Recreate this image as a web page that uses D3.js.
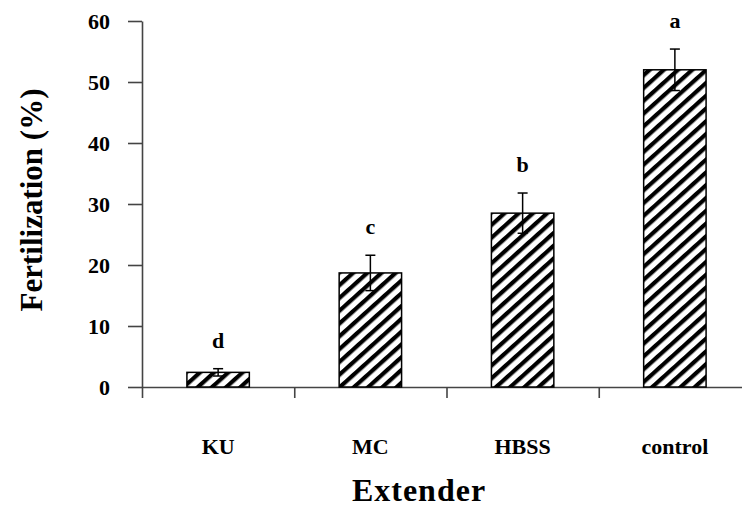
<!DOCTYPE html>
<html>
<head>
<meta charset="utf-8">
<script src="https://cdn.jsdelivr.net/npm/d3@7"></script>
<style>
  html, body { margin: 0; padding: 0; background: #fff; }
  text { font-family: "Liberation Serif", "Times New Roman", serif; font-weight: bold; fill: #000; }
</style>
</head>
<body>
<div id="chart"></div>
<script>
// Data

let categories = ['KU', 'MC', 'HBSS', 'control'];
let fertilization = [2.4, 18.7, 28.5, 52.0];
let std_error = [0.6, 2.9, 3.3, 3.4];
let letters = ['d', 'c', 'b', 'a'];
let y_ticks = [0, 10, 20, 30, 40, 50, 60];

// Canvas

let width = 742;
let height = 508;
let plot_left = 142, plot_right = 751, plot_top = 21, plot_bottom = 387;

let svg = d3.select('#chart')
    .append('svg')
    .attr('width', width)
    .attr('height', height);

// Hatch pattern

svg.append('defs')
    .append('pattern')
    .attr('id', 'hatch')
    .attr('patternUnits', 'userSpaceOnUse')
    .attr('width', 9.5)
    .attr('height', 9.5)
    .attr('patternTransform', 'rotate(48)')
    .call(p => {
        p.append('rect').attr('width', 9.5).attr('height', 9.5).attr('fill', '#fff');
        p.append('rect').attr('width', 4.2).attr('height', 9.5).attr('fill', '#000');
    });

// Scales

let x = d3.scaleBand()
    .domain(categories)
    .range([plot_left, plot_right])
    .padding(0);

let x_ticks = d3.scaleLinear()
    .domain([0, categories.length])
    .range([plot_left, plot_right]);

let y = d3.scaleLinear()
    .domain([0, 60])
    .range([plot_bottom, plot_top]);

let bar_width = x.bandwidth() * 0.41;

// Axes

let axis_y = svg.append('g')
    .attr('transform', `translate(${plot_left},0)`)
    .call(d3.axisLeft(y).tickValues(y_ticks).tickSize(14).tickSizeOuter(0).tickPadding(18));

axis_y.selectAll('text').attr('font-size', 22);
axis_y.attr('font-family', null).attr('font-size', null);

let axis_x = svg.append('g')
    .attr('transform', `translate(0,${plot_bottom})`)
    .call(d3.axisBottom(x_ticks).tickValues(d3.range(categories.length + 1)).tickSize(11).tickSizeOuter(0).tickFormat(''));

svg.selectAll('.domain, .tick line')
    .attr('stroke', '#444')
    .attr('stroke-width', 1.6);

// Bars

svg.selectAll('rect.bar')
    .data(fertilization)
    .enter()
    .append('rect')
    .attr('class', 'bar')
    .attr('x', (d, i) => x(categories[i]) + x.bandwidth() / 2 - bar_width / 2)
    .attr('y', d => y(d))
    .attr('width', bar_width)
    .attr('height', d => y(0) - y(d))
    .attr('fill', 'url(#hatch)')
    .attr('stroke', '#000')
    .attr('stroke-width', 1.5);

// Error bars

let cx = (i) => x(categories[i]) + x.bandwidth() / 2;

let err = svg.selectAll('g.err')
    .data(fertilization)
    .enter()
    .append('g')
    .attr('class', 'err')
    .attr('stroke', '#000')
    .attr('stroke-width', 1.5);

err.append('line')
    .attr('x1', (d, i) => cx(i))
    .attr('x2', (d, i) => cx(i))
    .attr('y1', (d, i) => y(d - std_error[i]))
    .attr('y2', (d, i) => y(d + std_error[i]));

err.append('line')
    .attr('x1', (d, i) => cx(i) - 5)
    .attr('x2', (d, i) => cx(i) + 5)
    .attr('y1', (d, i) => y(d + std_error[i]))
    .attr('y2', (d, i) => y(d + std_error[i]));

err.append('line')
    .attr('x1', (d, i) => cx(i) - 5)
    .attr('x2', (d, i) => cx(i) + 5)
    .attr('y1', (d, i) => y(d - std_error[i]))
    .attr('y2', (d, i) => y(d - std_error[i]));

// Significance letters

svg.selectAll('text.letter')
    .data(letters)
    .enter()
    .append('text')
    .attr('class', 'letter')
    .text(d => d)
    .attr('x', (d, i) => cx(i))
    .attr('y', (d, i) => y(fertilization[i] + std_error[i]) - 21)
    .attr('font-size', 22)
    .attr('text-anchor', 'middle');

// Category labels

svg.selectAll('text.cat')
    .data(categories)
    .enter()
    .append('text')
    .attr('class', 'cat')
    .text(d => d)
    .attr('x', d => x(d) + x.bandwidth() / 2)
    .attr('y', 454)
    .attr('font-size', 22)
    .attr('text-anchor', 'middle');

// Axis titles

svg.append('text')
    .text('Extender')
    .attr('x', 419)
    .attr('y', 501)
    .attr('font-size', 32)
    .attr('letter-spacing', 1)
    .attr('text-anchor', 'middle');

svg.append('text')
    .text('Fertilization (%)')
    .attr('transform', 'translate(42,200) rotate(-90)')
    .attr('font-size', 31)
    .attr('text-anchor', 'middle');
</script>
</body>
</html>
